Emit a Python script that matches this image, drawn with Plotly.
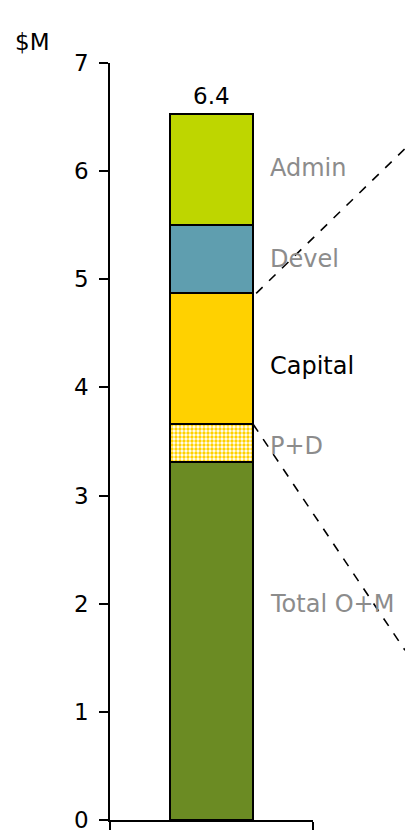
import plotly.graph_objects as go

categories = ["Total"]
segment_names = ["Total O+M", "P+D", "Capital", "Devel", "Admin"]
segment_values = [3.31, 0.35, 1.21, 0.63, 1.03]
segment_colors = ["#6B8B23", "#FFD100", "#FFD100", "#5F9EAF", "#BED600"]
label_colors = ["#8C8C8C", "#8C8C8C", "#000000", "#8C8C8C", "#8C8C8C"]
label_y = [2.0, 3.46, 4.2, 5.185, 6.03]
total_label = "6.4"
y_ticks = [0, 1, 2, 3, 4, 5, 6, 7]

FONT = "'DejaVu Sans', sans-serif"

fig = go.Figure()
for name, val, col in zip(segment_names, segment_values, segment_colors):
    marker = dict(color=col, line=dict(color="black", width=2))
    if name == "P+D":
        marker = dict(color="white", line=dict(color="black", width=2),
                      pattern=dict(shape=".", fgcolor=col, bgcolor="white", size=4,
                                   solidity=0.55, fillmode="replace"))
    fig.add_trace(go.Bar(x=[0], y=[val], name=name, width=0.404, marker=marker,
                         showlegend=False, hoverinfo="skip"))

cum = []
s = 0
for v in segment_values:
    s += v
    cum.append(s)

annotations = []
for name, yv, lc in zip(segment_names, label_y, label_colors):
    annotations.append(dict(x=0.78, xref="paper", y=yv, yref="y", text=name, showarrow=False,
                            xanchor="left", yanchor="middle",
                            font=dict(size=24, color=lc, family=FONT)))
annotations.append(dict(x=0, xref="x", y=cum[-1], yref="y", text=total_label, showarrow=False,
                        xanchor="center", yanchor="bottom", yshift=3,
                        font=dict(size=23, color="black", family=FONT)))
annotations.append(dict(x=-0.384, xref="paper", y=1.028, yref="paper", text="$M", showarrow=False,
                        xanchor="center", yanchor="middle",
                        font=dict(size=23, color="black", family=FONT)))

shapes = [
    dict(type="line", xref="paper", yref="y", x0=0.72, y0=cum[2], x1=1.453, y1=6.208,
         line=dict(color="black", width=1.6, dash="dash")),
    dict(type="line", xref="paper", yref="y", x0=0.705, y0=cum[1], x1=1.453, y1=1.57,
         line=dict(color="black", width=1.6, dash="dash")),
]

fig.update_layout(
    width=405, height=835,
    margin=dict(l=110, r=92, t=63, b=15, autoexpand=False),
    paper_bgcolor="white", plot_bgcolor="white",
    barmode="stack", bargap=0,
    annotations=annotations, shapes=shapes,
    font=dict(family=FONT, size=23, color="black"),
    xaxis=dict(range=[-0.5, 0.5], tickvals=[-0.5, 0.5], showticklabels=False, ticks="outside",
               ticklen=8, tickcolor="black", tickwidth=1.5, showline=True, linecolor="black",
               linewidth=1.5, showgrid=False, zeroline=False, fixedrange=True, automargin=False),
    yaxis=dict(range=[0, 7], tickvals=y_ticks, ticks="outside", ticklen=9, tickcolor="black",
               tickwidth=1.5, showline=True, linecolor="black", linewidth=1.5, showgrid=False,
               zeroline=False, tickfont=dict(size=23, family=FONT, color="black"),
               ticklabelstandoff=6, ticklabeloverflow="allow", fixedrange=True, automargin=False),
)

fig.write_html("out.html", config={"displayModeBar": False},
               post_script="document.body.style.margin='0';document.body.style.overflow='hidden';")
